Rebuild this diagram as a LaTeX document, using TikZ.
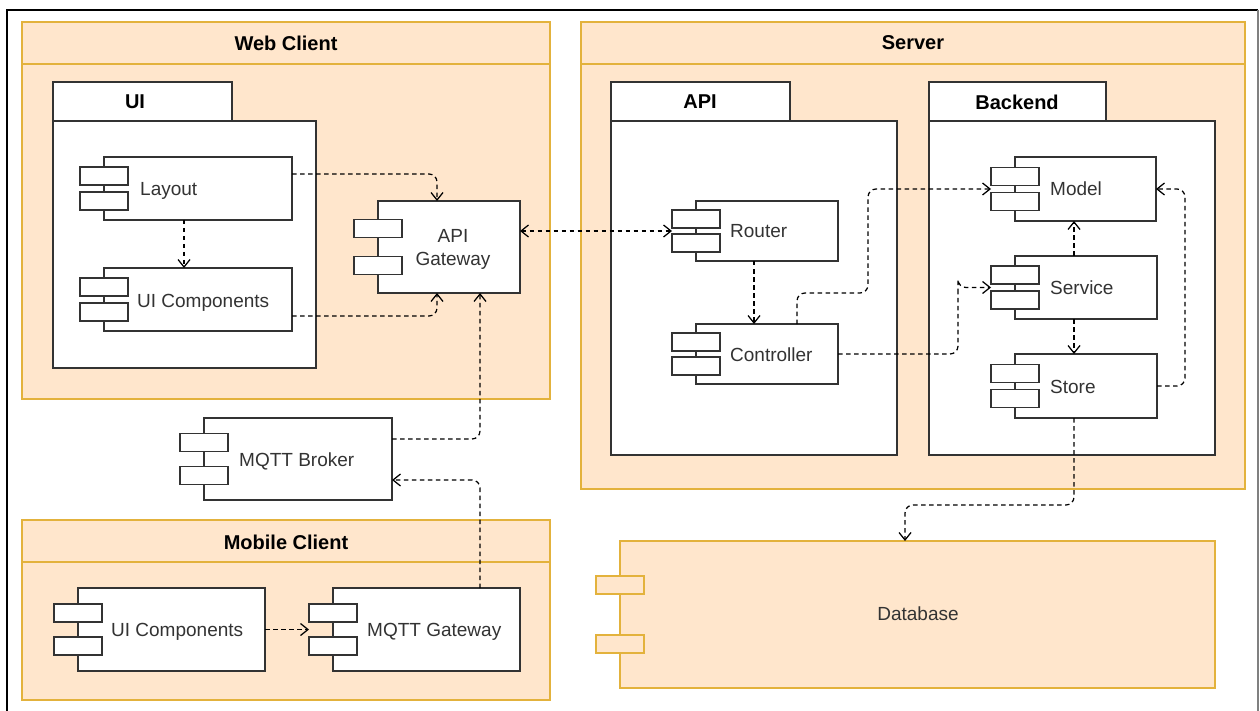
\documentclass[tikz,border=0pt]{standalone}
\usepackage{fontspec}
\setmainfont{Liberation Sans}
\usetikzlibrary{arrows.meta,fit,calc}
\definecolor{boxfill}{HTML}{FFE6CC}
\definecolor{boxline}{HTML}{E3B23C}
\definecolor{ink}{HTML}{333333}

\tikzset{
  container/.style={draw=boxline, fill=boxfill, line width=1.5pt, inner sep=0pt, outer sep=0pt},
  pkg/.style={draw=ink, fill=white, line width=1.4pt, inner sep=0pt, outer sep=0pt},
  comp/.style={draw=ink, fill=white, line width=1.3pt, inner sep=0pt, outer sep=0pt},
  dbcomp/.style={draw=boxline, fill=boxfill, line width=1.5pt, inner sep=0pt, outer sep=0pt},
  title/.style={font=\fontsize{20}{24}\selectfont\bfseries, text=black, inner sep=0pt},
  lbl/.style={font=\fontsize{19}{23}\selectfont, text=ink, inner sep=0pt, anchor=base west},
  >={Straight Barb[length=7.5pt,width=12pt]},
  dep/.style={draw=black, line width=1.25pt, dash pattern=on 4.5pt off 3.5pt,
              rounded corners=8pt, ->},
}

% UML component: body from (x0,y0) to (x1,y1) plus the two port rectangles
\newcommand\umlcomp[6]{%
  \pgfmathsetmacro\compmid{(#3+#5)/2}%
  \pgfmathsetmacro\compoff{0.2*(#5-#3)}%
  \node[#6, fit={(#2,#3)(#4,#5)}] (#1) {};%
  \draw[#6] (#2-24,\compmid-\compoff-9) rectangle (#2+24,\compmid-\compoff+9);%
  \draw[#6] (#2-24,\compmid+\compoff-9) rectangle (#2+24,\compmid+\compoff+9);%
  \coordinate (#1-left) at (#2-24,\compmid);%
}

\begin{document}
\begin{tikzpicture}[x=1pt,y=-1pt]
\useasboundingbox (0,0) rectangle (1260,711);

% page frame
\draw[black, line width=1.3pt] (7,711) -- (7,10) -- (1258,10);
\draw[gray, line width=1.3pt] (1258,10) -- (1258,711);

% containers
\node[container, fit={(22,22)(550,399)}] (web) {};
\draw[boxline, line width=1.5pt] (web.west |- 0,64) -- (web.east |- 0,64);
\node[title] (web-title) at (286,43) {Web Client};

\node[container, fit={(581,22)(1245,489)}] (server) {};
\draw[boxline, line width=1.5pt] (server.west |- 0,64) -- (server.east |- 0,64);
\node[title] (server-title) at (913,43) {Server};

\node[container, fit={(22,520)(550,700)}] (mobile) {};
\draw[boxline, line width=1.5pt] (mobile.west |- 0,562) -- (mobile.east |- 0,562);
\node[title] (mobile-title) at (286,542) {Mobile Client};

% packages
\node[pkg, fit={(53,82)(232,121)}] (ui-tab) {};
\node[pkg, fit={(53,121)(316,368)}] (ui) {};
\node[title] (ui-title) at (135,102) {UI};

\node[pkg, fit={(611,82)(790,121)}] (api-tab) {};
\node[pkg, fit={(611,121)(897,455)}] (api) {};
\node[title] (api-title) at (700,102) {API};

\node[pkg, fit={(929,82)(1106,121)}] (backend-tab) {};
\node[pkg, fit={(929,121)(1215,455)}] (backend) {};
\node[title] (backend-title) at (1017,102) {Backend};

% components
\umlcomp{layout}{104}{157}{292}{220}{comp}
\umlcomp{uiweb}{104}{268}{292}{331}{comp}
\umlcomp{apigw}{378}{201}{520}{293}{comp}
\umlcomp{router}{696}{201}{838}{261}{comp}
\umlcomp{ctrl}{696}{324}{838}{384}{comp}
\umlcomp{model}{1015}{157}{1156}{221}{comp}
\umlcomp{service}{1015}{256}{1157}{319}{comp}
\umlcomp{store}{1015}{354}{1157}{418}{comp}
\umlcomp{broker}{204}{418}{392}{500}{comp}
\umlcomp{uimob}{78}{588}{265}{671}{comp}
\umlcomp{mqttgw}{333}{588}{520}{671}{comp}
\umlcomp{db}{620}{541}{1215}{688}{dbcomp}

\node[lbl] (layout-text) at (140,196) {Layout};
\node[lbl] (uiweb-text) at (137,307) {UI Components};
\node[lbl, anchor=center, align=center] (apigw-text) at (453,249) {API\\Gateway};
\node[lbl] (router-text) at (730,238) {Router};
\node[lbl] (ctrl-text) at (730,361) {Controller};
\node[lbl] (model-text) at (1050,196) {Model};
\node[lbl] (service-text) at (1050,294) {Service};
\node[lbl] (store-text) at (1050,393) {Store};
\node[lbl] (broker-text) at (239,466) {MQTT Broker};
\node[lbl] (uimob-text) at (111,636) {UI Components};
\node[lbl] (mqttgw-text) at (367,636) {MQTT Gateway};
\node[lbl, anchor=base] (db-text) at (918,620) {Database};

% dependencies
\draw[dep] (layout.east |- 0,174) -| (apigw.north -| 437,0);
\draw[dep] (uiweb.east |- 0,316) -| (apigw.south -| 437,0);
\draw[dep] (layout.south -| 184,0) -- (uiweb.north -| 184,0);
\draw[dep, <->] (apigw.east |- router-left) -- (router-left);
\draw[dep] (router.south -| 754,0) -- (ctrl.north -| 754,0);
\draw[dep] (ctrl.north -| 797,0) |- (868,293) |- (model-left);
\draw[dep] (ctrl.east) -| (958,287) |- (service-left);
\draw[dep] (service.north -| 1074,0) -- (model.south -| 1074,0);
\draw[dep] (service.south -| 1074,0) -- (store.north -| 1074,0);
\draw[dep] (store.east) -| (1185,189) -- (model.east);
\draw[dep] (store.south -| 1074,0) |- (905,505) -- (db.north -| 905,0);
\draw[dep] (broker.east |- 0,439) -| (apigw.south -| 480,0);
\draw[dep] (mqttgw.north -| 480,0) |- (broker.east |- 0,480);
\draw[dep] (uimob.east) -- (mqttgw-left);
\end{tikzpicture}
\end{document}
